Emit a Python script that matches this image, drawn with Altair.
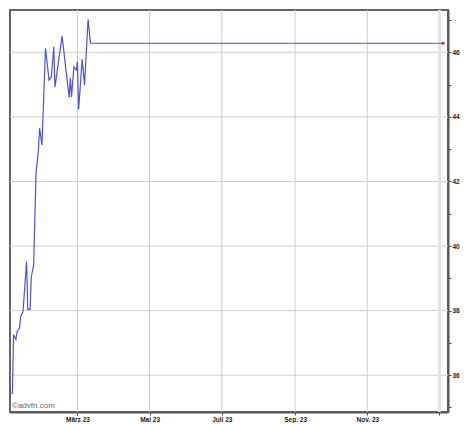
import altair as alt
import pandas as pd

# Price series
dates = [
    "2023-01-04", "2023-01-05", "2023-01-06", "2023-01-08", "2023-01-09",
    "2023-01-11", "2023-01-12", "2023-01-14", "2023-01-17", "2023-01-18",
    "2023-01-20", "2023-01-21", "2023-01-23", "2023-01-25", "2023-01-27",
    "2023-01-28", "2023-01-30", "2023-02-02", "2023-02-05", "2023-02-07",
    "2023-02-09", "2023-02-10", "2023-02-16", "2023-02-19", "2023-02-22",
    "2023-02-23", "2023-02-24", "2023-02-26", "2023-02-28", "2023-03-01",
    "2023-03-02", "2023-03-05", "2023-03-07", "2023-03-10", "2023-03-12",
    "2024-01-04",
]
prices = [
    35.44, 35.44, 37.25, 37.11, 37.35,
    37.45, 37.81, 37.97, 39.52, 38.04,
    38.04, 39.05, 39.41, 42.25, 42.97,
    43.65, 43.13, 46.12, 45.14, 45.25,
    46.17, 44.92, 46.50, 45.55, 44.60,
    45.20, 44.62, 45.55, 45.45, 45.71,
    44.23, 45.78, 44.99, 47.02, 46.28,
    46.28,
]

month_ticks = ["2023-03-01", "2023-05-01", "2023-07-01", "2023-09-01", "2023-11-01"]
year_mark = ["2024-01-01"]
y_grid = [36, 38, 40, 42, 44, 46]
y_ticks = [35, 36, 37, 38, 39, 40, 41, 42, 43, 44, 45, 46, 47]

df = pd.DataFrame({"date": dates, "price": prices})
last = df.tail(1)

x_scale = alt.Scale(
    type="utc",
    domain=[alt.DateTime(year=2023, month=1, date=3, utc=True),
            alt.DateTime(year=2024, month=1, date=8, hours=5, utc=True)],
    nice=False,
)
y_scale = alt.Scale(domain=[34.86, 47.31], nice=False, zero=False)

FONT = "Liberation Sans"

x_axis = alt.Axis(
    values=[alt.DateTime(year=2023, month=m, date=1, utc=True) for m in [3, 5, 7, 9, 11]]
    + [alt.DateTime(year=2024, month=1, date=1, utc=True)],
    labelExpr="utcyear(datum.value) > 2023 ? '' : ['Jan.','Feb.','März','Apr.','Mai','Juni','Juli','Aug.','Sep.','Okt.','Nov.','Dez.'][utcmonth(datum.value)] + ' ' + utcFormat(datum.value, '%y')",
    grid=False, title=None, tickSize=3, tickColor="#555", domainColor="#555",
    domainWidth=2, labelFontSize=6.5, labelFont=FONT, labelColor="#222",
    labelPadding=1, labelFontWeight="bold",
)
y_axis = alt.Axis(
    orient="right", values=y_ticks,
    labelExpr="datum.value % 2 == 0 ? format(datum.value, 'd') : ''",
    labelOverlap=False,
    grid=False, title=None, tickSize=3, tickColor="#555", domainColor="#555",
    domainWidth=2, labelFontSize=6.5, labelFont=FONT, labelColor="#222",
    labelPadding=1, labelFontWeight="bold",
)

hgrid = alt.Chart(pd.DataFrame({"v": y_grid})).mark_rule(
    color="#cfcfcf", strokeWidth=1
).encode(y=alt.Y("v:Q", scale=y_scale, axis=y_axis))

vgrid = alt.Chart(pd.DataFrame({"d": month_ticks})).mark_rule(
    color="#cfcfcf", strokeWidth=1
).encode(x=alt.X("d:T", scale=x_scale, axis=x_axis))

band = alt.Chart(pd.DataFrame({"d": year_mark})).mark_rule(
    color="#e3e3e3", strokeWidth=3
).encode(x=alt.X("d:T", scale=x_scale, axis=x_axis))

line = alt.Chart(df).mark_line(color="#5050e0", strokeWidth=1.2).encode(
    x=alt.X("date:T", scale=x_scale, axis=x_axis),
    y=alt.Y("price:Q", scale=y_scale, axis=y_axis),
)

dot = alt.Chart(last).mark_point(
    filled=True, color="#e0204a", size=10, opacity=1
).encode(
    x=alt.X("date:T", scale=x_scale, axis=x_axis),
    y=alt.Y("price:Q", scale=y_scale, axis=y_axis),
)

mark_txt = alt.Chart(pd.DataFrame({"t": ["©advfn.com"]})).mark_text(
    align="left", baseline="middle", font=FONT, fontSize=8, color="#666"
).encode(text="t:N", x=alt.value(2), y=alt.value(396))

chart = alt.layer(hgrid, vgrid, band, line, dot, mark_txt).properties(
    width=438, height=402, padding=0, background="white"
).configure_view(stroke="#666", strokeWidth=2)

chart.save("out.html", embed_options={"renderer": "svg", "actions": False})
